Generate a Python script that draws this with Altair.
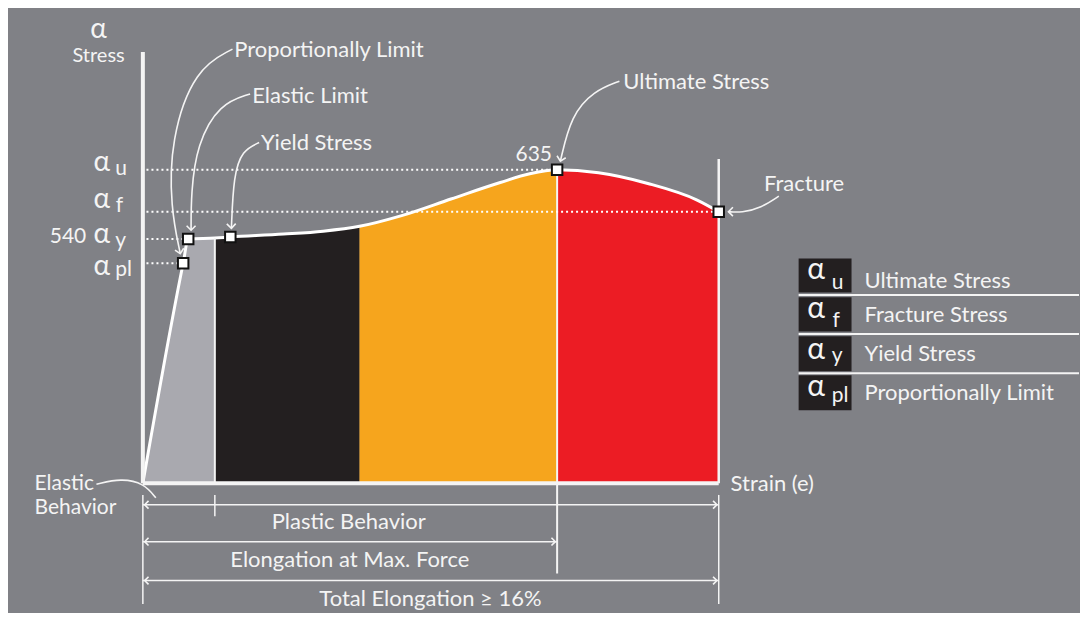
import altair as alt
import pandas as pd

# ---------------- data (strain in %, stress in MPa on a truncated axis) ----------------
strain = [0, 1.12, 1.26, 2.0, 2.43, 3.91, 5.01, 6.02, 7.19, 8.56, 9.93, 10.75, 11.51, 12.66, 14.03, 15.40, 16.0]
stress = [204.2, 506.5, 540.0, 541.3, 542.7, 546.7, 550.7, 557.4, 572.1, 594.9, 617.6, 629.6, 635.0, 631.0, 616.3, 593.5, 577.5]
BASE = 204.2

region_names = ["Elastic", "Yielding", "Strain hardening", "Necking"]
region_bounds = [0, 2.0, 6.02, 11.51, 16.0]
region_colors = ["#a9a9af", "#231f20", "#f6a51d", "#ec1c24"]

# key points: proportional limit, elastic limit, yield, ultimate, fracture
key_strain = [1.12, 1.26, 2.43, 11.51, 16.0]
key_stress = [506.5, 540.0, 542.7, 635.0, 577.5]

# dotted guide levels (from axis to point)
level_stress = [635.0, 577.5, 540.0, 506.5]
level_end = [11.51, 16.0, 1.26, 1.12]

# solid white lines: x, x2, y, y2, width
line_x = [0, 0, 2.0, 11.51, 16.0, 0, 16.0, 2.0, 0, 0, 0, 18.22, 18.22, 18.22]
line_x2 = [0, 16.0, 2.0, 11.51, 16.0, 0, 16.0, 2.0, 16.0, 11.51, 16.0, 26.01, 26.01, 26.01]
line_y = [204.2, 204.2, 204.2, 80.0, 204.2, 38.2, 38.2, 158.7, 174.7, 123.9, 70.4, 463.1, 409.5, 355.4]
line_y2 = [797.0, 204.2, 541.3, 635.0, 650.0, 188.1, 188.1, 188.1, 174.7, 123.9, 70.4, 463.1, 409.5, 355.4]
line_w = [4, 4, 2, 2, 2.5, 1.5, 1.5, 1.5, 1.5, 1.5, 1.5, 2, 2, 2]

# curved leader lines (control points)
leader_id = ["pl"] * 5 + ["el"] * 5 + ["ys"] * 4 + ["us"] * 4 + ["fr"] * 4 + ["eb"] * 4
leader_x = [2.49, 1.45, 0.77, 0.77, 1.04,
            2.98, 2.13, 1.50, 1.34, 1.34,
            3.23, 2.76, 2.52, 2.46,
            13.24, 12.53, 11.90, 11.60,
            17.67, 17.18, 16.63, 16.27,
            -1.29, -0.60, 0.03, 0.36]
leader_y = [800.9, 774.2, 676.5, 582.8, 519.9,
            739.4, 726.0, 669.8, 602.9, 552.0,
            672.5, 661.8, 627.0, 554.7,
            756.8, 743.4, 709.9, 647.0,
            598.9, 582.8, 576.1, 577.5,
            202.8, 210.9, 204.2, 184.1]

# arrow heads: x, y, angle, size
head_x = [0.05, 15.95, 0.05, 11.46, 0.05, 15.95, 1.04, 1.34, 2.46, 11.60, 16.27]
head_y = [174.7, 174.7, 123.9, 123.9, 70.4, 70.4, 519.9, 552.0, 554.7, 647.0, 577.5]
head_angle = [180, 0, 180, 0, 180, 0, 78, 90, 88, 103, 180]
head_size = [60, 60, 60, 60, 60, 60, 80, 80, 80, 80, 80]

# legend boxes
box_x, box_x2 = 18.22, 19.69
box_y = [513.2, 459.7, 406.2, 352.7]
box_y2 = [466.4, 412.9, 358.0, 304.5]

# left-aligned texts
ltext = ["Proportionally Limit", "Elastic Limit", "Yield Stress", "Ultimate Stress", "Fracture",
         "Strain (e)", "Elastic", "Behavior",
         "Ultimate Stress", "Fracture Stress", "Yield Stress", "Proportionally Limit",
         "α", "α", "α", "α", "u", "f", "y", "pl",
         "α", "α", "α", "α", "u", "f", "y", "pl"]
ltext_x = [2.54, 3.04, 3.28, 13.35, 17.26,
           16.33, -3.01, -3.01,
           20.05, 20.05, 20.05, 20.05,
           -1.37, -1.37, -1.37, -1.37, -0.77, -0.75, -0.77, -0.77,
           18.46, 18.46, 18.46, 18.46, 19.14, 19.16, 19.14, 19.14]
ltext_y = [790.2, 727.3, 661.8, 746.1, 605.6,
           193.5, 194.5, 161.3,
           473.1, 426.3, 372.8, 319.2,
           633.7, 582.8, 534.0, 491.0, 627.6, 576.8, 528.6, 488.8,
           485.1, 431.6, 375.4, 324.6, 471.1, 419.6, 370.8, 315.6]
ltext_size = [22, 22, 22, 22, 22,
              22, 21, 21,
              22, 22, 22, 22,
              28, 28, 28, 28, 21, 21, 21, 21,
              30, 30, 30, 30, 21, 21, 21, 21]

# centered texts
ctext = ["α", "Stress", "540", "635", "Plastic Behavior", "Elongation at Max. Force", "Total Elongation ≥ 16%"]
ctext_x = [-1.23, -1.23, -2.08, 10.86, 5.72, 5.75, 7.99]
ctext_y = [816.0, 783.5, 534.0, 647.0, 141.3, 89.1, 35.6]
ctext_size = [28, 20, 21, 21, 22, 22, 22]

# ---------------- tables ----------------
rows = []
for i, name in enumerate(region_names):
    lo, hi = region_bounds[i], region_bounds[i + 1]
    for s, t in zip(strain, stress):
        if lo <= s <= hi:
            rows.append({"region": name, "strain": s, "stress": t, "base": BASE})
regions_df = pd.DataFrame(rows)
curve_df = pd.DataFrame({"strain": strain, "stress": stress})
key_df = pd.DataFrame({"strain": key_strain, "stress": key_stress})
level_df = pd.DataFrame({"x": [0.1] * 4, "x2": level_end, "y": level_stress})
lines_df = pd.DataFrame({"x": line_x, "x2": line_x2, "y": line_y, "y2": line_y2, "w": line_w})
leader_df = pd.DataFrame({"id": leader_id, "x": leader_x, "y": leader_y,
                          "ord": list(range(len(leader_x)))})
head_df = pd.DataFrame({"x": head_x, "y": head_y, "angle": head_angle, "size": head_size})
box_df = pd.DataFrame({"x": [box_x] * 4, "x2": [box_x2] * 4, "y": box_y, "y2": box_y2})
ltext_df = pd.DataFrame({"t": ltext, "x": ltext_x, "y": ltext_y, "s": ltext_size})
ctext_df = pd.DataFrame({"t": ctext, "x": ctext_x, "y": ctext_y, "s": ctext_size})

# ---------------- scales ----------------
xs = alt.Scale(domain=[-3.747, 26.01], nice=False, zero=False)
ys = alt.Scale(domain=[26.2, 857.1], nice=False, zero=False)
WHITE = "#f4f4f4"
FONT = "Lato"

def X(f):
    return alt.X(f, scale=xs, axis=None)

def Y(f):
    return alt.Y(f, scale=ys, axis=None)

areas = alt.Chart(regions_df).mark_area(interpolate="monotone").encode(
    x=X("strain:Q"), y=Y("stress:Q"), y2="base:Q",
    color=alt.Color("region:N", scale=alt.Scale(domain=region_names, range=region_colors), legend=None),
)
curve = alt.Chart(curve_df).mark_line(interpolate="monotone", color="white", strokeWidth=3).encode(
    x=X("strain:Q"), y=Y("stress:Q"))
lines = alt.Chart(lines_df).mark_rule(color=WHITE).encode(
    x=X("x:Q"), x2="x2:Q", y=Y("y:Q"), y2="y2:Q", strokeWidth=alt.StrokeWidth("w:Q", scale=None))
dotted = alt.Chart(level_df).mark_rule(color="white", strokeWidth=2, strokeDash=[2, 3]).encode(
    x=X("x:Q"), x2="x2:Q", y=Y("y:Q"))
leaders = alt.Chart(leader_df).mark_line(interpolate="basis", color=WHITE, strokeWidth=1.6).encode(
    x=X("x:Q"), y=Y("y:Q"), detail="id:N", order="ord:Q")
heads = alt.Chart(head_df).mark_point(shape="M-1,-1L0,0L-1,1", filled=False, stroke=WHITE,
                                      strokeWidth=1.6, opacity=1).encode(
    x=X("x:Q"), y=Y("y:Q"), angle=alt.Angle("angle:Q", scale=None), size=alt.Size("size:Q", scale=None))
keys = alt.Chart(key_df).mark_square(size=110, color="white", stroke="#111111", strokeWidth=2, opacity=1).encode(
    x=X("strain:Q"), y=Y("stress:Q"))
boxes = alt.Chart(box_df).mark_rect(color="#231f20").encode(
    x=X("x:Q"), x2="x2:Q", y=Y("y:Q"), y2="y2:Q")
ltexts = alt.Chart(ltext_df).mark_text(align="left", baseline="alphabetic", color=WHITE, font=FONT).encode(
    x=X("x:Q"), y=Y("y:Q"), text="t:N", size=alt.Size("s:Q", scale=None))
ctexts = alt.Chart(ctext_df).mark_text(align="center", baseline="alphabetic", color=WHITE, font=FONT).encode(
    x=X("x:Q"), y=Y("y:Q"), text="t:N", size=alt.Size("s:Q", scale=None))

chart = alt.layer(areas, curve, lines, dotted, leaders, heads, keys, boxes, ltexts, ctexts).properties(
    width=1072, height=605, background="#808186", padding=0
).configure_view(stroke=None)

chart.save("out.html", embed_options={"renderer": "svg", "actions": False})
